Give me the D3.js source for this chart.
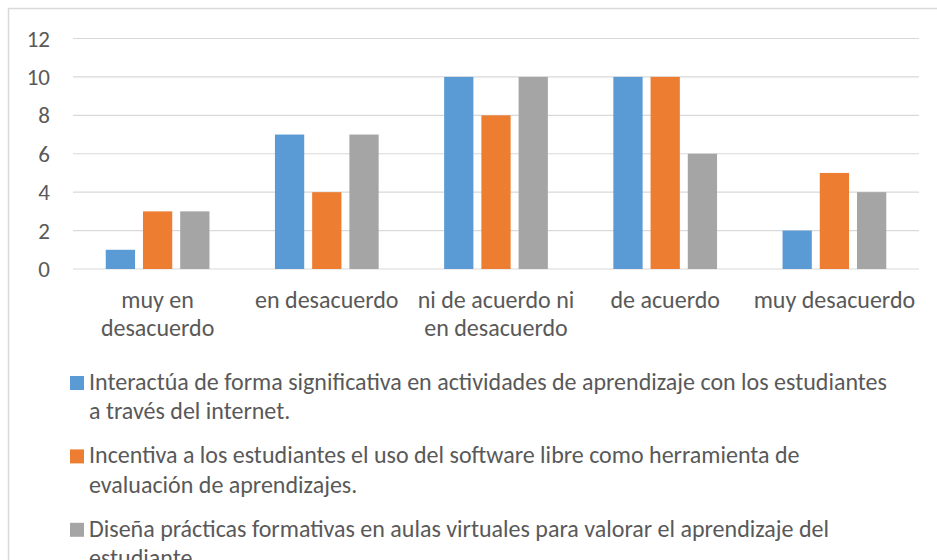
<!DOCTYPE html>
<html>
<head>
<meta charset="utf-8">
<script src="https://cdn.jsdelivr.net/npm/d3@7"></script>
<style>
  body { margin: 0; background: #fff; }
  svg { display: block; }
  .tick-label, .cat-label, .legend-text {
    font-family: Carlito, Lato, "Liberation Sans", sans-serif;
    fill: #595959;
  }
</style>
</head>
<body>
<svg id="chart" width="937" height="560"></svg>
<script>
// Data
const categories = ["muy en desacuerdo", "en desacuerdo", "ni de acuerdo ni en desacuerdo", "de acuerdo", "muy desacuerdo"];
const categoryLines = [["muy en", "desacuerdo"], ["en desacuerdo"], ["ni de acuerdo ni", "en desacuerdo"], ["de acuerdo"], ["muy desacuerdo"]];
const seriesNames = [
    "Interactúa de forma significativa en actividades de aprendizaje con los estudiantes a través del internet.",
    "Incentiva a los estudiantes el uso del software libre como herramienta de evaluación de aprendizajes.",
    "Diseña prácticas formativas en aulas virtuales para valorar el aprendizaje del estudiante."
];
const legendLines = [
    ["Interactúa de forma significativa en actividades de aprendizaje con los estudiantes", "a través del internet."],
    ["Incentiva a los estudiantes el uso del software libre como herramienta de", "evaluación de aprendizajes."],
    ["Diseña prácticas formativas en aulas virtuales para valorar el aprendizaje del", "estudiante."]
];
const interactua = [1, 7, 10, 10, 2];
const incentiva = [3, 4, 8, 10, 5];
const disena = [3, 7, 10, 6, 4];
const yTicks = [0, 2, 4, 6, 8, 10, 12];
const colors = ["#5B9BD5", "#ED7D31", "#A5A5A5"];

const series = [interactua, incentiva, disena];

const svg = d3.select("#chart");

// Chart frame (runs past the right and bottom edges, as in the original crop)
svg.append("rect")
    .attr("x", 8.5)
    .attr("y", 8.5)
    .attr("width", 1000)
    .attr("height", 1000)
    .attr("fill", "#fff")
    .attr("stroke", "#d9d9d9")
    .attr("stroke-width", 1.5);

const plot = { left: 73, right: 919, top: 38.5, bottom: 269 };

const x = d3.scaleBand().domain(categories).range([plot.left, plot.right]);
const y = d3.scaleLinear().domain([0, 12]).range([plot.bottom, plot.top]);

// Grid lines
svg.append("g")
    .selectAll("line")
    .data(yTicks)
    .join("line")
    .attr("x1", plot.left)
    .attr("x2", plot.right)
    .attr("y1", d => y(d))
    .attr("y2", d => y(d))
    .attr("stroke", "#d9d9d9")
    .attr("stroke-width", 1.2);

// Y tick labels
svg.append("g")
    .selectAll("text")
    .data(yTicks)
    .join("text")
    .attr("class", "tick-label")
    .attr("x", 50)
    .attr("y", d => y(d))
    .attr("dy", "0.35em")
    .attr("text-anchor", "end")
    .attr("font-size", 23)
    .text(d => d);

// Bars
const bw = x.bandwidth();
const barW = bw * 0.173;
const step = bw * 0.22;

series.forEach((vals, si) => {
    svg.append("g")
        .selectAll("rect")
        .data(vals)
        .join("rect")
        .attr("x", (d, i) => x(categories[i]) + bw / 2 + (si - 1) * step - barW / 2)
        .attr("y", d => y(d))
        .attr("width", barW)
        .attr("height", d => y(0) - y(d))
        .attr("fill", colors[si]);
});

// Category labels
const catG = svg.append("g");
categories.forEach((c, i) => {
    const t = catG.append("text")
        .attr("class", "cat-label")
        .attr("text-anchor", "middle")
        .attr("font-size", 24);
    categoryLines[i].forEach((line, li) => {
        t.append("tspan")
            .attr("x", x(c) + bw / 2)
            .attr("y", 307.5 + li * 28.7)
            .text(line);
    });
});

// Legend
const legend = svg.append("g");
seriesNames.forEach((name, si) => {
    const top = 376 + si * 73.4;
    legend.append("rect")
        .attr("x", 70)
        .attr("y", top)
        .attr("width", 14)
        .attr("height", 14)
        .attr("fill", colors[si]);
    const t = legend.append("text")
        .attr("class", "legend-text")
        .attr("font-size", 24);
    legendLines[si].forEach((line, li) => {
        t.append("tspan")
            .attr("x", 89)
            .attr("y", top + 14 + li * 29.3)
            .text(line);
    });
});
</script>
</body>
</html>
